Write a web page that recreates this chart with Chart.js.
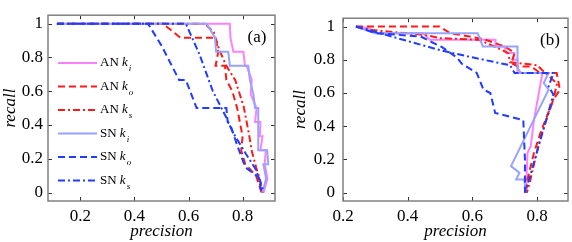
<!DOCTYPE html>
<html>
<head>
<meta charset="utf-8">
<script src="https://cdn.jsdelivr.net/npm/chart.js@4.4.1/dist/chart.umd.min.js"></script>
<style>
  html, body { margin: 0; padding: 0; background: #fff; }
  #wrap { position: relative; width: 572px; height: 242px; overflow: hidden; }
  canvas { position: absolute; top: 0; }
  #cA { left: 0; }
  #cB { left: 290px; }
</style>
</head>
<body>
<div id="wrap">
  <canvas id="cA" width="290" height="242"></canvas>
  <canvas id="cB" width="282" height="242"></canvas>
</div>
<script>
// --- DATA: [precision, recall] pairs ---
// panel (a)
const a_AN_ki = [[0.113,1],[0.753,1],[0.755,0.917],[0.766,0.833],[0.803,0.833],[0.809,0.75],[0.815,0.75],[0.834,0.667],[0.83,0.583],[0.852,0.5],[0.846,0.417],[0.866,0.417],[0.864,0.333],[0.874,0.333],[0.866,0.25],[0.886,0.25],[0.882,0.167],[0.892,0.083],[0.878,0]];
const a_AN_ko = [[0.113,1],[0.505,1],[0.57,0.917],[0.70,0.917],[0.71,0.833],[0.70,0.75],[0.735,0.75],[0.74,0.667],[0.762,0.6],[0.78,0.5],[0.79,0.417],[0.80,0.333],[0.795,0.25],[0.81,0.167],[0.85,0.1],[0.86,0.05],[0.87,0]];
const a_AN_ks = [[0.113,1],[0.66,1],[0.693,0.95],[0.715,0.84],[0.74,0.75],[0.773,0.665],[0.804,0.51],[0.822,0.36],[0.835,0.24],[0.85,0.15],[0.866,0.066],[0.872,0]];
const a_SN_ki = [[0.113,1],[0.667,1],[0.698,0.917],[0.702,0.833],[0.747,0.833],[0.753,0.75],[0.821,0.75],[0.827,0.667],[0.84,0.583],[0.846,0.5],[0.858,0.5],[0.858,0.25],[0.891,0.25],[0.895,0.167],[0.877,0.167],[0.887,0.083],[0.874,0]];
const a_SN_ko = [[0.113,1],[0.45,1],[0.50,0.87],[0.565,0.667],[0.59,0.667],[0.63,0.5],[0.74,0.5],[0.745,0.417],[0.755,0.4],[0.78,0.28],[0.81,0.15],[0.86,0.09],[0.87,0]];
const a_SN_ks = [[0.113,1],[0.59,1],[0.64,0.82],[0.69,0.6],[0.738,0.45],[0.763,0.36],[0.812,0.23],[0.848,0.14],[0.873,0.03],[0.875,0]];

// panel (b)
const b_AN_ki = [[0.24,1],[0.28,0.99],[0.30,0.96],[0.447,0.96],[0.468,0.92],[0.671,0.92],[0.671,0.88],[0.698,0.88],[0.705,0.84],[0.729,0.84],[0.725,0.8],[0.739,0.8],[0.739,0.72],[0.816,0.72],[0.805,0.6],[0.79,0.44],[0.78,0.28],[0.77,0.24],[0.765,0]];
const b_AN_ko = [[0.24,1],[0.498,1],[0.53,0.96],[0.62,0.93],[0.64,0.92],[0.70,0.88],[0.73,0.84],[0.72,0.78],[0.74,0.76],[0.78,0.76],[0.81,0.72],[0.86,0.72],[0.87,0.62],[0.85,0.56],[0.81,0.36],[0.79,0.24],[0.78,0.16],[0.77,0.08],[0.765,0]];
const b_AN_ks = [[0.24,1],[0.28,0.98],[0.45,0.95],[0.50,0.93],[0.62,0.92],[0.69,0.86],[0.71,0.84],[0.716,0.785],[0.80,0.767],[0.814,0.74],[0.861,0.657],[0.85,0.565],[0.809,0.326],[0.793,0.197],[0.778,0.07],[0.768,0]];
const b_SN_ki = [[0.24,1],[0.30,0.96],[0.616,0.96],[0.632,0.88],[0.739,0.88],[0.739,0.75],[0.75,0.72],[0.835,0.72],[0.82,0.66],[0.835,0.62],[0.719,0.16],[0.745,0.12],[0.735,0.08],[0.76,0.08],[0.765,0]];
const b_SN_ko = [[0.24,1],[0.30,0.96],[0.44,0.94],[0.47,0.91],[0.505,0.877],[0.552,0.813],[0.567,0.776],[0.613,0.721],[0.634,0.62],[0.655,0.6],[0.67,0.48],[0.757,0.436],[0.762,0.2],[0.762,0]];
const b_SN_ks = [[0.24,1],[0.397,0.914],[0.499,0.858],[0.602,0.813],[0.716,0.767],[0.73,0.72],[0.85,0.72],[0.835,0.64],[0.85,0.59],[0.763,0]];

// legend names: network + subscript of k
const netNames = ['AN', 'AN', 'AN', 'SN', 'SN', 'SN'];
const kSubs = ['i', 'o', 's', 'i', 'o', 's'];

// ticks
const xTicksA = [0.2, 0.4, 0.6, 0.8];
const xTicksB = [0.2, 0.4, 0.6, 0.8];
const yTicks = [0, 0.2, 0.4, 0.6, 0.8, 1];

// --- STYLE ---
const SERIF = '"Liberation Serif", "Times New Roman", serif';
const COLORS = ['#ff80ff', '#ff1a1a', '#ff1a1a', '#98a2ff', '#1f3cff', '#1f3cff'];
const DASHES = [[], [7, 4], [7, 3, 2, 3], [], [7, 4], [7, 3, 2, 3]];

function makeDatasets(seriesList) {
    return seriesList.map((pts, i) => ({
        label: netNames[i] + ' k' + kSubs[i],
        data: pts.map(p => ({ x: p[0], y: p[1] })),
        showLine: true,
        borderColor: COLORS[i],
        borderWidth: 2,
        borderDash: DASHES[i],
        pointRadius: 0,
        tension: 0,
        order: 5 - i
    }));
}

// box + inward tick marks on all four sides (MATLAB look)
const boxTicks = {
    id: 'boxTicks',
    afterDatasetsDraw(chart) {
        const { ctx, chartArea: ca, scales: { x, y } } = chart;
        ctx.save();
        ctx.setLineDash([]);
        ctx.strokeStyle = '#333';
        ctx.lineWidth = 1;
        ctx.beginPath();
        x.ticks.forEach(t => {
            const px = Math.round(x.getPixelForValue(t.value)) + 0.5;
            ctx.moveTo(px, ca.bottom); ctx.lineTo(px, ca.bottom - 4);
            ctx.moveTo(px, ca.top); ctx.lineTo(px, ca.top + 4);
        });
        y.ticks.forEach(t => {
            const py = Math.round(y.getPixelForValue(t.value)) + 0.5;
            ctx.moveTo(ca.left, py); ctx.lineTo(ca.left + 4, py);
            ctx.moveTo(ca.right, py); ctx.lineTo(ca.right - 4, py);
        });
        ctx.stroke();
        ctx.strokeStyle = '#808080';
        ctx.lineWidth = 1.5;
        ctx.strokeRect(ca.left, ca.top, ca.right - ca.left, ca.bottom - ca.top);
        ctx.restore();
    }
};

// panel letter, e.g. "(a)"
const panelTag = {
    id: 'panelTag',
    afterDraw(chart, args, opts) {
        const { ctx, chartArea: ca } = chart;
        ctx.save();
        ctx.font = '17px ' + SERIF;
        ctx.fillStyle = '#000';
        ctx.textAlign = 'center';
        ctx.textBaseline = 'middle';
        ctx.fillText(opts.text, ca.right - opts.dx, ca.top + 22);
        ctx.restore();
    }
};

// legend with italic k and subscript
const subLegend = {
    id: 'subLegend',
    afterDraw(chart, args, opts) {
        if (!opts.show) return;
        const { ctx } = chart;
        ctx.save();
        chart.data.datasets.forEach((ds, i) => {
            const yy = 63 + i * 23.5;
            ctx.strokeStyle = ds.borderColor;
            ctx.lineWidth = 2;
            ctx.setLineDash(ds.borderDash);
            ctx.beginPath();
            ctx.moveTo(58, yy); ctx.lineTo(97, yy);
            ctx.stroke();

            ctx.fillStyle = '#000';
            ctx.textBaseline = 'middle';
            ctx.textAlign = 'left';
            ctx.font = '13px ' + SERIF;
            let tx = 100;
            const head = netNames[i] + ' ';
            ctx.fillText(head, tx, yy);
            tx += ctx.measureText(head).width;
            ctx.font = 'italic 13px ' + SERIF;
            ctx.fillText('k', tx, yy);
            tx += ctx.measureText('k').width + 1;
            ctx.font = 'italic 9px ' + SERIF;
            ctx.fillText(kSubs[i], tx, yy + 6);
        });
        ctx.restore();
    }
};

function makeOptions(xMin, xMax, xTicks, yAxisWidth, yLabelPad, padRight, tag, showLegend) {
    return {
        responsive: false,
        animation: false,
        layout: { padding: { top: 2, right: padRight, left: 0, bottom: 0 } },
        plugins: {
            legend: { display: false },
            tooltip: { enabled: false },
            panelTag: { text: tag, dx: 18 },
            subLegend: { show: showLegend }
        },
        scales: {
            x: {
                type: 'linear',
                min: xMin, max: xMax,
                afterBuildTicks: s => { s.ticks = xTicks.map(v => ({ value: v })); },
                afterFit: s => { s.height = 41; },
                grid: { display: false, drawTicks: false },
                border: { display: false },
                ticks: {
                    autoSkip: false, maxRotation: 0, padding: 5,
                    color: '#000', font: { family: SERIF, size: 17 },
                    callback: v => String(v)
                },
                title: {
                    display: true, text: 'precision', color: '#000',
                    font: { family: SERIF, size: 17, style: 'italic', lineHeight: 1.2 },
                    padding: { top: 0, bottom: 0 }
                }
            },
            y: {
                type: 'linear',
                min: -0.05, max: 1.05,
                afterBuildTicks: s => { s.ticks = yTicks.map(v => ({ value: v })); },
                afterFit: s => { s.width = yAxisWidth; },
                grid: { display: false, drawTicks: false },
                border: { display: false },
                ticks: {
                    autoSkip: false, padding: yLabelPad,
                    color: '#000', font: { family: SERIF, size: 17 },
                    callback: v => String(v)
                },
                title: {
                    display: true, text: 'recall', color: '#000',
                    font: { family: SERIF, size: 17, style: 'italic', lineHeight: 1.2 },
                    padding: { top: 0, bottom: 0 }
                }
            }
        }
    };
}

new Chart(document.getElementById('cA'), {
    type: 'scatter',
    data: { datasets: makeDatasets([a_AN_ki, a_AN_ko, a_AN_ks, a_SN_ki, a_SN_ko, a_SN_ks]) },
    options: makeOptions(0.08, 0.92, xTicksA, 48, 5, 15, '(a)', true),
    plugins: [boxTicks, panelTag, subLegend]
});

new Chart(document.getElementById('cB'), {
    type: 'scatter',
    data: { datasets: makeDatasets([b_AN_ki, b_AN_ko, b_AN_ks, b_SN_ki, b_SN_ko, b_SN_ks]) },
    options: makeOptions(0.2, 0.895, xTicksB, 53, 8, 4, '(b)', false),
    plugins: [boxTicks, panelTag, subLegend]
});
</script>
</body>
</html>
